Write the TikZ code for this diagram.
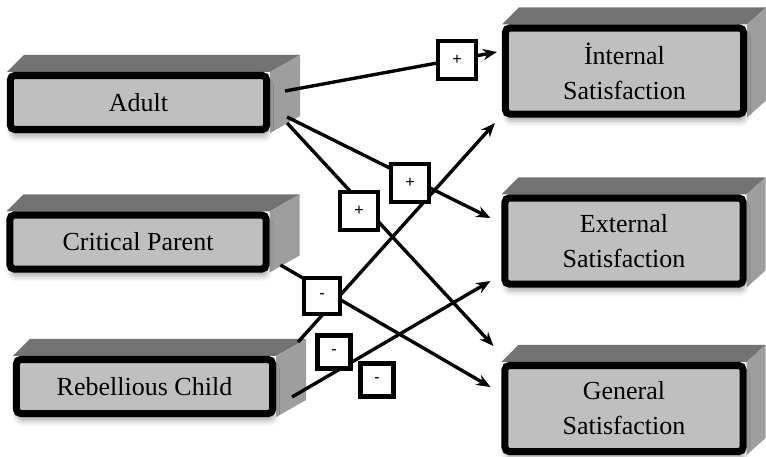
\documentclass[tikz,border=0pt]{standalone}
\usepackage{fontspec}
\setmainfont{Liberation Serif}
\newfontfamily\signfont{Liberation Sans}
\usetikzlibrary{calc, arrows.meta, backgrounds, shadows.blur}

\begin{document}
\begin{tikzpicture}[x=0.025cm, y=-0.025cm, >=Stealth]

    % --- Paramètres ---
    \def\dL{17}     % décalage de l'arête arrière gauche
    \def\dUp{17}    % hauteur de la face supérieure

    % --- Styles ---
    \tikzstyle{front} = [draw=black, line width=5pt, rounded corners=3pt, fill=black!25, align=center, font=\fontsize{18.5}{25}\selectfont, blur shadow={shadow xshift=1pt, shadow yshift=-5pt, shadow blur radius=4pt, shadow opacity=35}]
    \tikzstyle{cause} = [front, minimum width=6.4cm, minimum height=1.35cm]
    \tikzstyle{effect} = [front, minimum width=5.95cm, minimum height=2.15cm]
    \tikzstyle{topface} = [fill=black!55]
    \tikzstyle{sideface} = [fill=black!38]
    \tikzstyle{link} = [-{Stealth[length=10pt, width=8pt]}, line width=2.4pt]
    \tikzstyle{sign} = [draw, line width=3.5pt, fill=white, minimum size=0.95cm, inner sep=0pt, font=\signfont\fontsize{11.5}{13}\selectfont]

    \useasboundingbox (0,0) rectangle (766,456);

    % --- Boîtes (faces avant) ---
    \node[cause] (adult) at (138.5,102.5) {Adult};
    \node[cause] (critical) at (138,242) {Critical Parent};
    \node[cause] (rebel) at (144.5,386.5) {Rebellious Child};

    \node[effect] (internal) at (624.5,71) {İnternal\\Satisfaction};
    \node[effect] (external) at (624,241) {External\\Satisfaction};
    \node[effect] (general) at (624,408.5) {General\\Satisfaction};

    % --- Faces supérieures et latérales ---
    \begin{pgfonlayer}{background}
    \foreach \n/\dR in {adult/30, critical/30, rebel/30, internal/19, external/19, general/19}{
        \fill[topface] (\n.north west) -- ++(\dL,-\dUp) -- ($(\n.north east)+(\dR,-\dUp)$) -- (\n.north east) -- cycle;
        \fill[sideface] (\n.north east) -- ++(\dR,-\dUp) -- ($(\n.south east)+(\dR,-\dUp)$) -- (\n.south east) -- cycle;
    }
    \end{pgfonlayer}

    % --- Liens ---
    \draw[link] ($(adult.east)+(15,-11.5)$) -- ($(internal.west)+(-5,-19)$);
    \draw[link] ($(adult.east)+(17,14.5)$) -- ($(external.west)+(-11,-23)$);
    \draw[link] ($(adult.east)+(17,20.5)$) -- ($(general.west)+(-8,-62.5)$);
    \draw[link] ($(critical.east)+(11,23)$) -- ($(general.west)+(-11,-21.5)$);
    \draw[link] ($(rebel.east)+(22,-44.5)$) -- ($(internal.west)+(-7,52)$);
    \draw[link] ($(rebel.east)+(16,10.5)$) -- ($(external.west)+(-11,40)$);

    % --- Signes ---
    \node[sign] (s1) at (457,60) {+};
    \node[sign] (s2) at (410,183) {+};
    \node[sign] (s3) at (359,211) {+};
    \node[sign, minimum size=0.9cm] (s4) at (322,296) {-};
    \node[sign, minimum size=0.82cm] (s5) at (334,352) {-};
    \node[sign, minimum size=0.82cm] (s6) at (377,380) {-};

\end{tikzpicture}
\end{document}
